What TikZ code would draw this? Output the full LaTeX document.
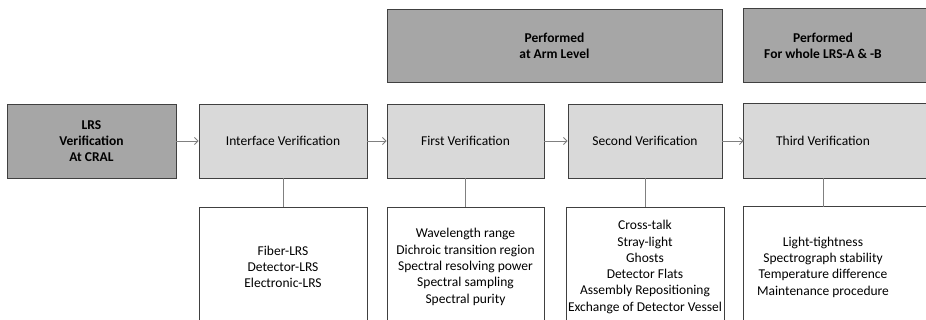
\documentclass[tikz,border=0pt]{standalone}
\usepackage{fontspec}
\setmainfont{Carlito}
\usetikzlibrary{arrows.meta,backgrounds}
\definecolor{boxdark}{HTML}{A6A6A6}
\definecolor{boxlight}{HTML}{D9D9D9}
\definecolor{edgegray}{HTML}{404040}
\definecolor{linegray}{HTML}{808080}
\newcommand\diafont{\fontsize{13.5}{16.3}\selectfont}
\tikzset{
  darkbox/.style={draw=edgegray,fill=boxdark,line width=0.8pt,font=\diafont\bfseries,
    align=center,minimum height=74pt,inner sep=0pt},
  lightbox/.style={draw=edgegray,fill=boxlight,line width=0.8pt,font=\diafont,
    align=center,minimum height=74pt,inner sep=0pt},
  listbox/.style={draw=edgegray,fill=white,line width=0.8pt,font=\diafont,
    align=center,minimum height=120pt,inner sep=0pt},
  flow/.style={draw=linegray,line width=0.9pt,-{Straight Barb[length=3.5pt,width=7pt]}},
  link/.style={draw=linegray,line width=0.9pt}
}
\begin{document}
\begin{tikzpicture}[x=1pt,y=-1pt]
\useasboundingbox (0,0) rectangle (926,320);
% steps
\node[darkbox,minimum width=169pt] (cral) at (91.5,141) {LRS\\Verification\\At CRAL};
\node[lightbox,minimum width=168pt] (iface) at (283,141) {Interface Verification};
\node[lightbox,minimum width=157pt] (first) at (465.5,141) {First Verification};
\node[lightbox,minimum width=154pt] (second) at (645,141) {Second Verification};
\node[lightbox,minimum width=158pt,draw=none,fill=none] (third) at (823,141) {Third Verification};
% where performed
\node[darkbox,minimum width=335pt,minimum height=73pt] (arm) at (554.5,45.5) {Performed\\at Arm Level};
\node[darkbox,minimum width=158pt,minimum height=73pt,draw=none,fill=none] (whole) at (823,45.5)
  {Performed\\For whole LRS-A \& -B};
% checks
\node[listbox,minimum width=168pt] (iface-list) at (283,267) {Fiber-LRS\\Detector-LRS\\Electronic-LRS};
\node[listbox,minimum width=157pt] (first-list) at (465.5,267) {Wavelength range\\Dichroic transition region\\
  Spectral resolving power\\Spectral sampling\\Spectral purity};
\node[listbox,minimum width=158pt] (second-list) at (645,267) {Cross-talk\\Stray-light\\Ghosts\\Detector Flats\\
  Assembly Repositioning\\Exchange of Detector Vessel};
\node[listbox,minimum width=158pt,draw=none,fill=none] (third-list) at (823,267) {Light-tightness\\
  Spectrograph stability\\Temperature difference\\Maintenance procedure};
% right column runs past the edge
\begin{scope}[on background layer]
\draw[fill=boxlight,draw=edgegray,line width=0.8pt] (third.north west) rectangle ([xshift=80pt]third.south east);
\draw[fill=boxdark,draw=edgegray,line width=0.8pt] (whole.north west) rectangle ([xshift=80pt]whole.south east);
\draw[fill=white,draw=edgegray,line width=0.8pt] (third-list.north west) rectangle ([xshift=80pt]third-list.south east);
\end{scope}
\foreach \a/\b in {cral/iface,iface/first,first/second,second/third}
  \draw[flow] (\a) -- (\b);
\foreach \n in {iface,first,second,third}
  \draw[link] (\n) -- (\n-list);
\end{tikzpicture}
\end{document}
